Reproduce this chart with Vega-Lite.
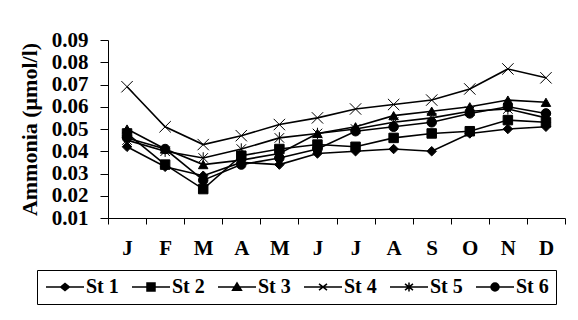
{
  "$schema": "https://vega.github.io/schema/vega-lite/v6.json",
  "width": 457,
  "height": 178,
  "autosize": {"type": "none"},
  "padding": {"left": 108, "top": 40, "right": 13, "bottom": 102},
  "background": "white",
  "config": {"view": {"stroke": null}, "font": "Liberation Serif"},
  "data": {
    "values": [
      {"m": "Jan", "s": "St 1", "v": 0.042}, {"m": "Feb", "s": "St 1", "v": 0.033}, {"m": "Mar", "s": "St 1", "v": 0.029}, {"m": "Apr", "s": "St 1", "v": 0.035}, {"m": "May", "s": "St 1", "v": 0.034}, {"m": "Jun", "s": "St 1", "v": 0.039}, {"m": "Jul", "s": "St 1", "v": 0.040}, {"m": "Aug", "s": "St 1", "v": 0.041}, {"m": "Sep", "s": "St 1", "v": 0.040}, {"m": "Oct", "s": "St 1", "v": 0.048}, {"m": "Nov", "s": "St 1", "v": 0.050}, {"m": "Dec", "s": "St 1", "v": 0.051},
      {"m": "Jan", "s": "St 2", "v": 0.048}, {"m": "Feb", "s": "St 2", "v": 0.034}, {"m": "Mar", "s": "St 2", "v": 0.023}, {"m": "Apr", "s": "St 2", "v": 0.038}, {"m": "May", "s": "St 2", "v": 0.041}, {"m": "Jun", "s": "St 2", "v": 0.043}, {"m": "Jul", "s": "St 2", "v": 0.042}, {"m": "Aug", "s": "St 2", "v": 0.046}, {"m": "Sep", "s": "St 2", "v": 0.048}, {"m": "Oct", "s": "St 2", "v": 0.049}, {"m": "Nov", "s": "St 2", "v": 0.054}, {"m": "Dec", "s": "St 2", "v": 0.053},
      {"m": "Jan", "s": "St 3", "v": 0.050}, {"m": "Feb", "s": "St 3", "v": 0.041}, {"m": "Mar", "s": "St 3", "v": 0.034}, {"m": "Apr", "s": "St 3", "v": 0.036}, {"m": "May", "s": "St 3", "v": 0.039}, {"m": "Jun", "s": "St 3", "v": 0.048}, {"m": "Jul", "s": "St 3", "v": 0.051}, {"m": "Aug", "s": "St 3", "v": 0.056}, {"m": "Sep", "s": "St 3", "v": 0.058}, {"m": "Oct", "s": "St 3", "v": 0.060}, {"m": "Nov", "s": "St 3", "v": 0.063}, {"m": "Dec", "s": "St 3", "v": 0.062},
      {"m": "Jan", "s": "St 4", "v": 0.069}, {"m": "Feb", "s": "St 4", "v": 0.051}, {"m": "Mar", "s": "St 4", "v": 0.043}, {"m": "Apr", "s": "St 4", "v": 0.047}, {"m": "May", "s": "St 4", "v": 0.052}, {"m": "Jun", "s": "St 4", "v": 0.055}, {"m": "Jul", "s": "St 4", "v": 0.059}, {"m": "Aug", "s": "St 4", "v": 0.061}, {"m": "Sep", "s": "St 4", "v": 0.063}, {"m": "Oct", "s": "St 4", "v": 0.068}, {"m": "Nov", "s": "St 4", "v": 0.077}, {"m": "Dec", "s": "St 4", "v": 0.073},
      {"m": "Jan", "s": "St 5", "v": 0.045}, {"m": "Feb", "s": "St 5", "v": 0.040}, {"m": "Mar", "s": "St 5", "v": 0.037}, {"m": "Apr", "s": "St 5", "v": 0.041}, {"m": "May", "s": "St 5", "v": 0.046}, {"m": "Jun", "s": "St 5", "v": 0.048}, {"m": "Jul", "s": "St 5", "v": 0.050}, {"m": "Aug", "s": "St 5", "v": 0.053}, {"m": "Sep", "s": "St 5", "v": 0.055}, {"m": "Oct", "s": "St 5", "v": 0.058}, {"m": "Nov", "s": "St 5", "v": 0.059}, {"m": "Dec", "s": "St 5", "v": 0.055},
      {"m": "Jan", "s": "St 6", "v": 0.046}, {"m": "Feb", "s": "St 6", "v": 0.041}, {"m": "Mar", "s": "St 6", "v": 0.027}, {"m": "Apr", "s": "St 6", "v": 0.034}, {"m": "May", "s": "St 6", "v": 0.037}, {"m": "Jun", "s": "St 6", "v": 0.041}, {"m": "Jul", "s": "St 6", "v": 0.049}, {"m": "Aug", "s": "St 6", "v": 0.051}, {"m": "Sep", "s": "St 6", "v": 0.053}, {"m": "Oct", "s": "St 6", "v": 0.057}, {"m": "Nov", "s": "St 6", "v": 0.060}, {"m": "Dec", "s": "St 6", "v": 0.057}
    ]
  },
  "encoding": {
    "x": {
      "field": "m",
      "type": "ordinal",
      "bandPosition": 0.5,
      "scale": {"type": "band", "domain": ["Jan","Feb","Mar","Apr","May","Jun","Jul","Aug","Sep","Oct","Nov","Dec"], "paddingInner": 0, "paddingOuter": 0},
      "axis": {
        "title": null,
        "labelAngle": 0,
        "labelExpr": "substring(datum.label, 0, 1)",
        "labelFont": "Liberation Serif",
        "labelFontSize": 21,
        "labelFontWeight": "bold",
        "labelColor": "black",
        "labelPadding": 13,
        "tickBand": "extent",
        "tickSize": 6,
        "tickColor": "black",
        "domainColor": "black",
        "grid": false
      }
    },
    "y": {
      "field": "v",
      "type": "quantitative",
      "scale": {"domain": [0.01, 0.09], "nice": false, "zero": false},
      "axis": {
        "title": "Ammonia (μmol/l)",
        "titleFont": "Liberation Serif",
        "titleFontSize": 22,
        "titleFontWeight": "bold",
        "titleColor": "black",
        "titlePadding": 10,
        "values": [0.01, 0.02, 0.03, 0.04, 0.05, 0.06, 0.07, 0.08, 0.09],
        "format": ".2f",
        "labelFont": "Liberation Serif",
        "labelFontSize": 21,
        "labelFontWeight": "bold",
        "labelColor": "black",
        "labelPadding": 12,
        "tickSize": 8,
        "tickColor": "black",
        "domainColor": "black",
        "grid": false
      }
    }
  },
  "layer": [
    {
      "mark": {"type": "line", "color": "black", "strokeWidth": 1.6},
      "encoding": {"detail": {"field": "s", "type": "nominal"}}
    },
    {
      "mark": {"type": "point", "filled": true, "color": "black", "stroke": "black", "strokeWidth": 1, "opacity": 1, "size": 90},
      "encoding": {
        "shape": {
          "field": "s",
          "type": "nominal",
          "scale": {
            "domain": ["St 1", "St 2", "St 3", "St 4", "St 5", "St 6"],
            "range": ["diamond", "square", "triangle-up", "M-1.2,-1.2L1.2,1.2M-1.2,1.2L1.2,-1.2", "M-1,-1L1,1M-1,1L1,-1M0,-1.2V1.2", "circle"]
          },
          "legend": null
        }
      }
    },
    {
      "transform": [{"filter": "datum.v < 0"}],
      "mark": {"type": "point", "filled": false, "color": "black", "strokeWidth": 1.5, "opacity": 1, "size": 64},
      "encoding": {
        "shape": {
          "field": "s",
          "type": "nominal",
          "scale": {
            "domain": ["St 1", "St 2", "St 3", "St 4", "St 5", "St 6"],
            "range": [
              "M-2,0H7.5M1.65,0L2.75,-0.9L3.85,0L2.75,0.9ZM1.96,-0.25H3.54M1.96,0.25H3.54M2.26,-0.5H3.24M2.26,0.5H3.24M2.57,-0.75H2.93M2.57,0.75H2.93",
              "M-2,0H7.5M1.75,-1H3.75V1H1.75ZM1.75,-0.75H3.75M1.75,-0.5H3.75M1.75,-0.25H3.75M1.75,0.25H3.75M1.75,0.5H3.75M1.75,0.75H3.75",
              "M-2,0H7.5M1.65,0.8L2.75,-1L3.85,0.8ZM2.6,-0.75H2.9M2.44,-0.5H3.06M2.29,-0.25H3.21M1.99,0.25H3.51M1.83,0.5H3.67M1.68,0.75H3.82",
              "M-2,0H7.5M1.75,-0.8L3.75,0.8M1.75,0.8L3.75,-0.8",
              "M-2,0H7.5M1.75,-0.8L3.75,0.8M1.75,0.8L3.75,-0.8M2.75,-1.1V1.1",
              "M-2,0H7.5M3.75,0A1,1,0,1,1,1.75,0A1,1,0,1,1,3.75,0ZM1.78,-0.25H3.72M1.78,0.25H3.72M1.88,-0.5H3.62M1.88,0.5H3.62M2.09,-0.75H3.41M2.09,0.75H3.41M2.31,-0.9H3.19M2.31,0.9H3.19"
            ]
          },
          "legend": {
            "title": null,
            "orient": "none",
            "legendX": -71,
            "legendY": 230,
            "direction": "horizontal",
            "strokeColor": "black",
            "padding": 7,
            "symbolSize": 64,
            "symbolStrokeWidth": 1.5,
            "symbolStrokeColor": "black",
            "symbolOpacity": 1,
            "labelFont": "Liberation Serif",
            "labelFontSize": 20,
            "labelFontWeight": "bold",
            "labelColor": "black",
            "labelOffset": 22,
            "columnPadding": 10
          }
        }
      }
    }
  ],
  "resolve": {"scale": {"shape": "independent"}}
}
